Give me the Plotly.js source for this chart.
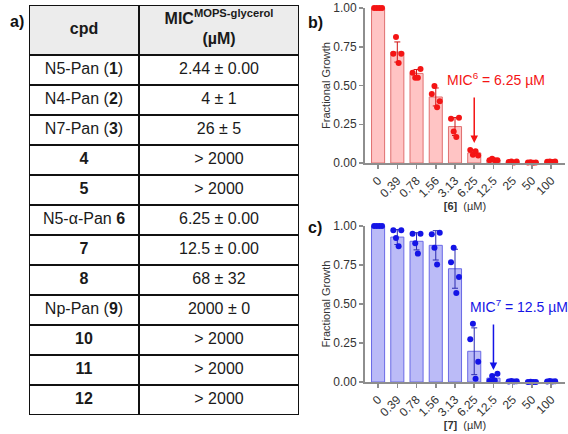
<!DOCTYPE html>
<html>
<head>
<meta charset="utf-8">
<script src="https://cdn.plot.ly/plotly-3.0.1.min.js"></script>
<style>
html,body{margin:0;padding:0;background:#fff;}
#chart{width:568px;height:434px;}
</style>
</head>
<body>
<div id="chart"></div>
<script>
// ---- Table data (panel a) ----
var tableHeader = ['<b>cpd</b>', '<b>MIC<sup>MOPS-glycerol</sup></b><br><b>(µM)</b>'];
var compounds = ['N5-Pan (<b>1</b>)', 'N4-Pan (<b>2</b>)', 'N7-Pan (<b>3</b>)', '<b>4</b>', '<b>5</b>',
  'N5-α-Pan <b>6</b>', '<b>7</b>', '<b>8</b>', 'Np-Pan (<b>9</b>)', '<b>10</b>', '<b>11</b>', '<b>12</b>'];
var micValues = ['2.44 ± 0.00', '4 ± 1', '26 ± 5', '> 2000', '> 2000', '6.25 ± 0.00',
  '12.5 ± 0.00', '68 ± 32', '2000 ± 0', '> 2000', '> 2000', '> 2000'];

// ---- Concentrations (µM) ----
var conc = ['0', '0.39', '0.78', '1.56', '3.13', '6.25', '12.5', '25', '50', '100'];

// ---- Panel b: compound 6 ----
var b_mean = [1.00, 0.716, 0.578, 0.426, 0.235, 0.065, 0.020, 0.008, 0.004, 0.008];
var b_sd   = [0.000, 0.065, 0.025, 0.058, 0.058, 0.017, 0.005, 0.003, 0.002, 0.002];
var b_rep1 = [1.00, 0.705, 0.583, 0.445, 0.286, 0.084, 0.017, 0.006, 0.003, 0.008];
var b_rep2 = [1.00, 0.813, 0.550, 0.497, 0.204, 0.054, 0.028, 0.010, 0.005, 0.010];
var b_rep3 = [1.00, 0.645, 0.550, 0.359, 0.168, 0.075, 0.017, 0.004, 0.002, 0.006];
var b_rep4 = [1.00, 0.705, 0.606, 0.398, 0.292, 0.049, 0.017, 0.010, 0.004, 0.009];

// ---- Panel c: compound 7 ----
var c_mean = [1.00, 0.929, 0.902, 0.876, 0.726, 0.197, 0.025, 0.004, 0.000, 0.004];
var c_sd   = [0.000, 0.048, 0.055, 0.094, 0.125, 0.150, 0.022, 0.002, 0.001, 0.002];
var c_rep1 = [1.00, 0.972, 0.951, 0.947, 0.767, 0.274, 0.006, 0.004, 0.000, 0.004];
var c_rep2 = [1.00, 0.923, 0.889, 0.861, 0.861, 0.374, 0.038, 0.006, 0.001, 0.006];
var c_rep3 = [1.00, 0.870, 0.823, 0.754, 0.571, 0.021, 0.010, 0.003, 0.000, 0.003];
var c_rep4 = [1.00, 0.972, 0.951, 0.957, 0.673, 0.130, 0.053, 0.005, 0.000, 0.005];

var FONT = 'Liberation Sans, Arial, sans-serif';
var RED = '#f41414', BLUE = '#1414e6';

// ---- Table geometry (layout, not data) ----
var COL_W = [110, 160];
var HEAD_H = 50, ROW_H = 30;
var colEdges = [0];
COL_W.forEach(function(w){ colEdges.push(colEdges[colEdges.length - 1] + w); });
var nRows = compounds.length + 1;
var rowEdges = [0, HEAD_H];
for (var i = 0; i < compounds.length; i++) rowEdges.push(rowEdges[rowEdges.length - 1] + ROW_H);
var TW = colEdges[colEdges.length - 1], TH = rowEdges[rowEdges.length - 1];

var zFill = [], tx = [], ty = [], tt = [];
var columns = [[tableHeader[0]].concat(compounds), [tableHeader[1]].concat(micValues)];
for (var r = 0; r < nRows; r++) {
  zFill.push(COL_W.map(function(){ return r === 0 ? 1 : 0; }));
  for (var c = 0; c < COL_W.length; c++) {
    tx.push((colEdges[c] + colEdges[c + 1]) / 2);
    ty.push((rowEdges[r] + rowEdges[r + 1]) / 2);
    tt.push(columns[c][r]);
  }
}

var traces = [];
traces.push({
  type: 'heatmap', x: colEdges, y: rowEdges, z: zFill, xaxis: 'x3', yaxis: 'y3',
  colorscale: [[0, '#ffffff'], [1, '#ececec']], zmin: 0, zmax: 1, showscale: false,
  xgap: 2, ygap: 2, hoverinfo: 'skip'
});
traces.push({
  type: 'scatter', mode: 'text', x: tx, y: ty, text: tt, xaxis: 'x3', yaxis: 'y3',
  textposition: 'middle center', textfont: {family: FONT, size: 16, color: '#1a1a1a'},
  cliponaxis: false, showlegend: false, hoverinfo: 'skip'
});

function barTrace(mean, sd, xa, ya, fill, edge, err) {
  return {
    type: 'bar', x: conc, y: mean, xaxis: xa, yaxis: ya,
    marker: {color: fill, line: {color: edge, width: 1}},
    error_y: {type: 'data', array: sd, visible: true, color: err, thickness: 1, width: 3},
    showlegend: false, hoverinfo: 'skip'
  };
}
function repTrace(vals, xa, ya, color) {
  return {
    type: 'scatter', mode: 'markers', x: conc, y: vals, xaxis: xa, yaxis: ya,
    marker: {color: color, size: 6},
    cliponaxis: false, showlegend: false, hoverinfo: 'skip'
  };
}
traces.push(barTrace(b_mean, b_sd, 'x', 'y', '#ffc4c4', '#e07070', '#d01010'));
[b_rep1, b_rep2, b_rep3, b_rep4].forEach(function(r){ traces.push(repTrace(r, 'x', 'y', RED)); });
traces.push(barTrace(c_mean, c_sd, 'x2', 'y2', '#bbbbf7', '#6a6ae6', '#2a2ab0'));
[c_rep1, c_rep2, c_rep3, c_rep4].forEach(function(r){ traces.push(repTrace(r, 'x2', 'y2', BLUE)); });

function xAxis(domain, anchor, title) {
  return {
    domain: domain, anchor: anchor, type: 'category', range: [-0.68, 9.72],
    showline: true, linecolor: '#8e8e8e', linewidth: 2,
    ticks: 'outside', ticklen: 4, tickwidth: 1.5, tickcolor: '#8e8e8e',
    tickangle: -45, tickfont: {family: FONT, size: 12, color: '#333'},
    showgrid: false, zeroline: false, fixedrange: true,
    title: {text: title, font: {family: FONT, size: 11, color: '#333'}, standoff: 1}
  };
}
function yAxis(domain, anchor) {
  return {
    domain: domain, anchor: anchor, range: [0, 1],
    tickvals: [0, 0.25, 0.5, 0.75, 1], tickformat: '.2f',
    showline: true, linecolor: '#8e8e8e', linewidth: 2,
    ticks: 'outside', ticklen: 4, tickwidth: 1.5, tickcolor: '#8e8e8e',
    tickfont: {family: FONT, size: 12, color: '#333'},
    showgrid: false, zeroline: false, fixedrange: true,
    title: {text: 'Fractional Growth', font: {family: FONT, size: 11, color: '#333'}, standoff: 0}
  };
}

var idx6 = conc.indexOf('6.25'), idx7 = conc.indexOf('12.5');

var layout = {
  width: 568, height: 434,
  margin: {l: 0, r: 0, t: 0, b: 0},
  paper_bgcolor: '#fff', plot_bgcolor: 'rgba(0,0,0,0)',
  font: {family: FONT, color: '#333'},
  bargap: 0.32,
  scattermode: 'group', scattergap: 0.45,
  showlegend: false,
  xaxis: xAxis([365/568, 565/568], 'y', '<b>[6]</b>  (µM)'),
  yaxis: yAxis([1 - 163/434, 1 - 8/434], 'x'),
  xaxis2: xAxis([365/568, 565/568], 'y2', '<b>[7]</b>  (µM)'),
  yaxis2: yAxis([1 - 382/434, 1 - 226/434], 'x2'),
  xaxis3: {domain: [29/568, 299/568], anchor: 'y3', range: [0, TW], visible: false, fixedrange: true},
  yaxis3: {domain: [1 - 415/434, 1 - 5/434], anchor: 'x3', range: [TH, 0], visible: false, fixedrange: true},
  shapes: [
    {type: 'rect', xref: 'x3', yref: 'y3', x0: -1, x1: TW + 1, y0: -1, y1: TH + 1,
     fillcolor: '#111', line: {width: 0}, layer: 'below'}
  ],
  annotations: [
    {xref: 'paper', yref: 'paper', x: 8/568, y: 1 - 11/434, text: '<b>a)</b>', showarrow: false,
     font: {family: FONT, size: 16, color: '#111'}},
    {xref: 'paper', yref: 'paper', x: 315/568, y: 1 - 12/434, text: '<b>b)</b>', showarrow: false,
     font: {family: FONT, size: 16, color: '#111'}},
    {xref: 'paper', yref: 'paper', x: 315/568, y: 1 - 228/434, text: '<b>c)</b>', showarrow: false,
     font: {family: FONT, size: 16, color: '#111'}},
    {xref: 'x', yref: 'y', x: 6.15, y: 0.54, text: 'MIC<sup>6</sup> = 6.25 µM', showarrow: false,
     font: {family: FONT, size: 14, color: RED}},
    {xref: 'x', yref: 'y', x: idx6, y: 0.129, text: ' ', showarrow: true, ax: 0, ay: -54,
     arrowhead: 2, arrowsize: 1, arrowwidth: 1.5, arrowcolor: RED, standoff: 0, startstandoff: 0},
    {xref: 'x2', yref: 'y2', x: 7.34, y: 0.49, text: 'MIC<sup>7</sup> = 12.5 µM', showarrow: false,
     font: {family: FONT, size: 14, color: BLUE}},
    {xref: 'x2', yref: 'y2', x: idx7, y: 0.077, text: ' ', showarrow: true, ax: 0, ay: -54,
     arrowhead: 2, arrowsize: 1, arrowwidth: 1.5, arrowcolor: BLUE, standoff: 0, startstandoff: 0}
  ]
};

Plotly.newPlot('chart', traces, layout, {staticPlot: true, displayModeBar: false});
</script>
</body>
</html>
